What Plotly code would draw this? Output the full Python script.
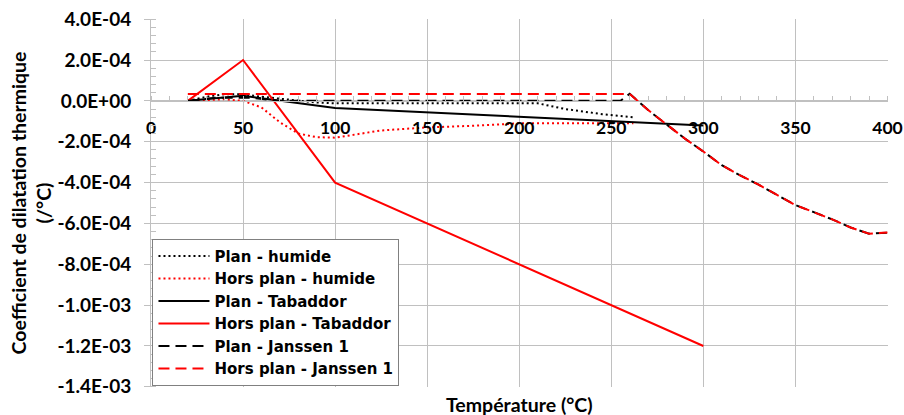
import plotly.graph_objects as go

# ---------------- data ----------------
temp_humide = [20, 30, 40, 50, 60, 70, 80, 90, 100, 125, 150, 175, 200, 210, 225, 245, 262]
plan_humide = [0, 2.0e-05, 3.3e-05, 3.3e-05, 2.0e-05, 1.0e-05, 0, -8e-06, -1.2e-05, -1.2e-05,
               -1.2e-05, -1.0e-05, -1.0e-05, -1.2e-05, -4.0e-05, -6.5e-05, -8.0e-05]
hors_plan_humide = [0, 5e-06, 8e-06, 0, -3.2e-05, -1.05e-04, -1.6e-04, -1.78e-04, -1.8e-04, -1.45e-04,
                    -1.3e-04, -1.22e-04, -1.1e-04, -1.1e-04, -1.1e-04, -1.1e-04, -1.1e-04]

temp_tabaddor = [20, 50, 100, 200, 300]
plan_tabaddor = [0, 2.5e-05, -3.5e-05, -7.8e-05, -1.2e-04]
hors_plan_tabaddor = [0, 2.0e-04, -4.0e-04, -8.0e-04, -1.2e-03]

temp_janssen_tail = [270, 280, 290, 300, 310, 320, 330, 340, 350, 360, 370, 380, 390, 400]
janssen_tail = [-4.5e-05, -1.15e-04, -1.85e-04, -2.48e-04, -3.15e-04, -3.65e-04, -4.1e-04,
                -4.6e-04, -5.1e-04, -5.45e-04, -5.8e-04, -6.2e-04, -6.5e-04, -6.45e-04]
temp_janssen_plan_head = [20, 35, 55, 70, 255, 260]
plan_janssen_head = [0, 1.5e-05, 1.5e-05, 0, 0, 3.5e-05]
temp_janssen_hors_head = [20, 260]
hors_plan_janssen_head = [3.4e-05, 3.4e-05]

y_tick_vals = [4e-4, 2e-4, 0, -2e-4, -4e-4, -6e-4, -8e-4, -1.0e-3, -1.2e-3, -1.4e-3]
y_tick_text = ["4.0E-04", "2.0E-04", "0.0E+00", "-2.0E-04", "-4.0E-04", "-6.0E-04",
               "-8.0E-04", "-1.0E-03", "-1.2E-03", "-1.4E-03"]
x_tick_vals = [0, 50, 100, 150, 200, 250, 300, 350, 400]

FONT = "Lato"
LEGEND_FONT = "DejaVu Sans"
RED = "#ff0000"
BLACK = "#000000"
GRID = "#c0c0c0"
XTICK_SIZE = 17.5
YTICK_SIZE = 19
TITLE_SIZE = 19.5

fig = go.Figure()

def add(name, x, y, color, dash):
    fig.add_trace(go.Scatter(x=x, y=y, mode="lines", name=name,
                             line=dict(color=color, width=2, dash=dash)))

add("Plan - humide", temp_humide, plan_humide, BLACK, "2px,3px")
add("Hors plan - humide", temp_humide, hors_plan_humide, RED, "2px,3px")
add("Plan - Tabaddor", temp_tabaddor, plan_tabaddor, BLACK, "solid")
add("Hors plan - Tabaddor", temp_tabaddor, hors_plan_tabaddor, RED, "solid")
add("Plan - Janssen 1", temp_janssen_plan_head + temp_janssen_tail,
    plan_janssen_head + janssen_tail, BLACK, "11px,6px")
add("Hors plan - Janssen 1", temp_janssen_hors_head + temp_janssen_tail,
    hors_plan_janssen_head + janssen_tail, RED, "11px,6px")

Y_MIN, Y_MAX = -1.4008e-3, 4.008e-4
X_MIN, X_MAX = 0, 400.3
y_zero_frac = (0 - Y_MIN) / (Y_MAX - Y_MIN)

fig.update_layout(
    width=904, height=415,
    margin=dict(l=151, r=16, t=19, b=28),
    paper_bgcolor="white", plot_bgcolor="white",
    font=dict(family=FONT, size=XTICK_SIZE, color="black", weight="bold"),
    showlegend=True,
    legend=dict(x=0.002, y=0.403, xanchor="left", yanchor="top",
                bgcolor="white", bordercolor="#808080", borderwidth=1,
                font=dict(family=LEGEND_FONT, size=15, color="black", weight="bold"),
                tracegroupgap=0, itemwidth=51),
    xaxis=dict(range=[X_MIN, X_MAX], tickvals=x_tick_vals, showgrid=True, gridcolor=GRID, gridwidth=1,
               zeroline=False, showline=True, linecolor=GRID, linewidth=1, automargin=False,
               anchor="free", position=y_zero_frac, ticks="", ticklabelstandoff=11,
               ticklabeloverflow="allow",
               minor=dict(dtick=10, ticks="inside", ticklen=5, tickcolor=GRID, showgrid=False),
               tickfont=dict(family=FONT, size=XTICK_SIZE, color="black", weight="bold")),
    yaxis=dict(range=[Y_MIN, Y_MAX], tickvals=y_tick_vals, ticktext=y_tick_text,
               showgrid=True, gridcolor=GRID, gridwidth=1, zeroline=False, automargin=False,
               showline=True, linecolor=GRID, linewidth=1,
               ticks="outside", ticklen=6, tickcolor=GRID, ticklabelstandoff=9,
               ticklabeloverflow="allow",
               minor=dict(dtick=4e-5, tick0=0, ticks="inside", ticklen=5, tickcolor=GRID, showgrid=False),
               tickfont=dict(family=FONT, size=YTICK_SIZE, color="black", weight="bold"),
               title=dict(text="Coefficient de dilatation thermique<br>(/°C)", standoff=0,
                          font=dict(family=FONT, size=TITLE_SIZE, color="black", weight="bold"))),
    annotations=[dict(text="Température (°C)", xref="paper", yref="paper", x=0.5, y=0,
                      yshift=-17, xanchor="center", yanchor="middle", showarrow=False,
                      font=dict(family=FONT, size=TITLE_SIZE, color="black", weight="bold"))],
)

fig.write_html("out.html", config={"displayModeBar": False},
               post_script="document.body.style.margin='0';document.body.style.overflow='hidden';")
